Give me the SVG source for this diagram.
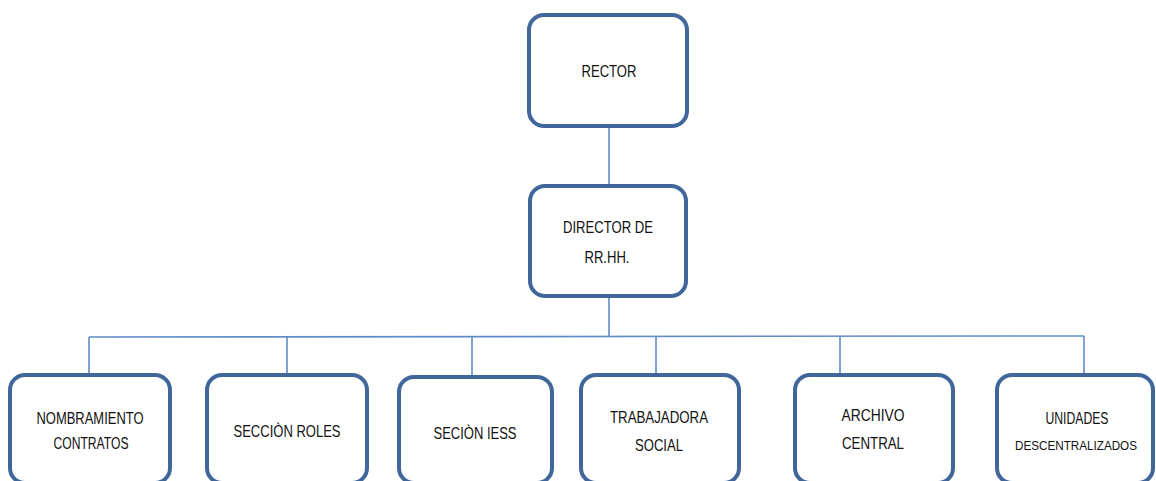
<svg xmlns="http://www.w3.org/2000/svg" width="1156" height="481" viewBox="0 0 1156 481">
<style>
.box{fill:#ffffff;stroke:#41679a;stroke-width:4}
.ln{stroke:#5f8cc6;stroke-width:1.6;fill:none}
text{font-family:"Liberation Sans",Arial,sans-serif;font-size:17px;fill:#111;text-anchor:middle}
text.sm{font-size:13.5px}
</style>
<rect width="1156" height="481" fill="#ffffff"/>
<g id="connectors">
<line class="ln" x1="609" y1="127" x2="609" y2="185"/>
<line class="ln" x1="609" y1="297" x2="609" y2="337"/>
<line class="ln" x1="89" y1="337" x2="1084" y2="336"/>
<line class="ln" x1="89" y1="337" x2="89" y2="374"/>
<line class="ln" x1="287" y1="337" x2="287" y2="374"/>
<line class="ln" x1="472" y1="337" x2="472" y2="375"/>
<line class="ln" x1="656" y1="337" x2="656" y2="374"/>
<line class="ln" x1="840" y1="336" x2="840" y2="376"/>
<line class="ln" x1="1084" y1="336" x2="1084" y2="374"/>
</g>
<g id="rector">
<rect class="box" x="529" y="15" width="158" height="111" rx="15"/>
<text x="609" y="77" textLength="55" lengthAdjust="spacingAndGlyphs">RECTOR</text>
</g>
<g id="director">
<rect class="box" x="530" y="186" width="156" height="110" rx="15"/>
<text x="608" y="233" textLength="90" lengthAdjust="spacingAndGlyphs">DIRECTOR DE</text>
<text x="607" y="263" textLength="45" lengthAdjust="spacingAndGlyphs">RR.HH.</text>
</g>
<g id="nombramiento">
<rect class="box" x="10" y="375" width="160" height="108" rx="15"/>
<text x="90" y="424" textLength="107" lengthAdjust="spacingAndGlyphs">NOMBRAMIENTO</text>
<text x="91" y="449" textLength="75" lengthAdjust="spacingAndGlyphs">CONTRATOS</text>
</g>
<g id="roles">
<rect class="box" x="207" y="375" width="160" height="108" rx="15"/>
<text x="287" y="437" textLength="107" lengthAdjust="spacingAndGlyphs">SECCIÒN ROLES</text>
</g>
<g id="iess">
<rect class="box" x="399" y="377" width="153" height="106" rx="15"/>
<text x="475" y="439" textLength="83" lengthAdjust="spacingAndGlyphs">SECIÒN IESS</text>
</g>
<g id="trabajadora">
<rect class="box" x="581" y="375" width="158" height="108" rx="15"/>
<text x="659" y="423" textLength="98" lengthAdjust="spacingAndGlyphs">TRABAJADORA</text>
<text x="659" y="451" textLength="48" lengthAdjust="spacingAndGlyphs">SOCIAL</text>
</g>
<g id="archivo">
<rect class="box" x="795" y="375" width="158" height="108" rx="15"/>
<text x="873" y="421" textLength="63" lengthAdjust="spacingAndGlyphs">ARCHIVO</text>
<text x="873" y="449" textLength="62" lengthAdjust="spacingAndGlyphs">CENTRAL</text>
</g>
<g id="unidades">
<rect class="box" x="997" y="375" width="156" height="108" rx="15"/>
<text x="1077" y="424" textLength="63" lengthAdjust="spacingAndGlyphs">UNIDADES</text>
<text class="sm" x="1076" y="450" textLength="122" lengthAdjust="spacingAndGlyphs">DESCENTRALIZADOS</text>
</g>
</svg>
